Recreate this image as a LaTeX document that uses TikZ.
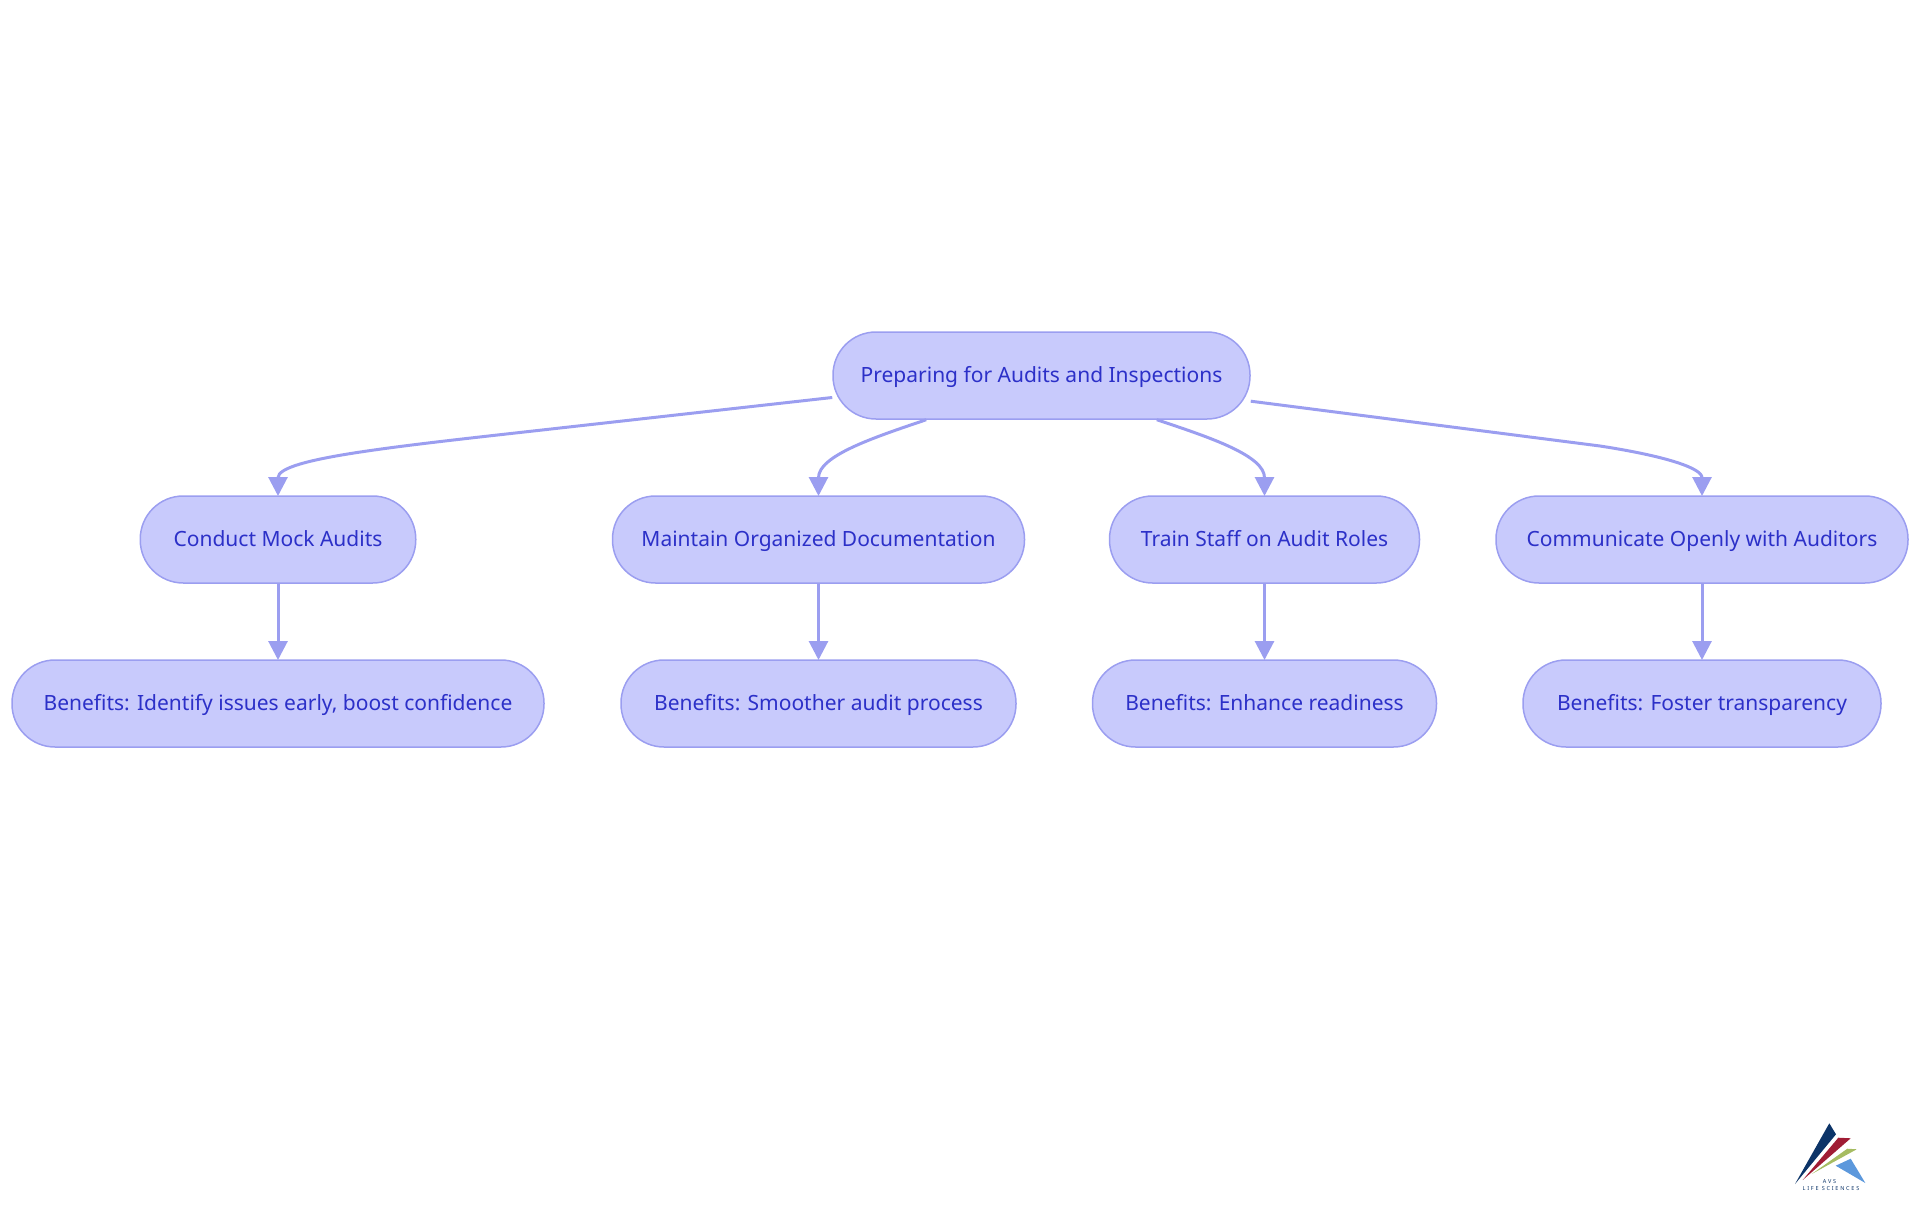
\documentclass[tikz,border=0pt]{standalone}
\usepackage{fontspec}
\setmainfont{Noto Sans}
\usetikzlibrary{arrows.meta}
\definecolor{ff}{RGB}{200, 202, 252}
\definecolor{bb}{RGB}{155, 158, 240}
\definecolor{tt}{RGB}{44, 48, 200}
\definecolor{navy}{RGB}{12, 52, 104}
\definecolor{wine}{RGB}{160, 28, 52}
\definecolor{olive}{RGB}{166, 188, 98}
\definecolor{sky}{RGB}{92, 152, 220}
\tikzset{
box/.style={rectangle, rounded corners=43pt, minimum height=87pt, fill=ff, line width=1.5pt, draw=bb, text=tt, inner sep=0pt, text height=19pt, text depth=5pt, font=\fontsize{21pt}{26pt}\selectfont},
link/.style={line width=3pt, color=bb, -{Triangle[length=19pt, width=19pt]}, shorten >=-0.75pt},
tiny/.style={text=navy, inner sep=0pt, font=\fontsize{5.5pt}{6pt}\bfseries\addfontfeature{LetterSpace=32}}
}
\begin{document}
\begin{tikzpicture}
\useasboundingbox (0pt, 0pt) rectangle (1920pt, -1215pt);
\node (root) [box, minimum width=417pt] at (1041.5pt, -375.5pt)  {Preparing for Audits and Inspections};
\node (mock) [box, minimum width=275.5pt] at (278pt, -539.5pt)  {Conduct Mock Audits};
\node (docs) [box, minimum width=412pt] at (818.5pt, -539.5pt)  {Maintain Organized Documentation};
\node (train) [box, minimum width=310pt] at (1264.5pt, -539.5pt)  {Train Staff on Audit Roles};
\node (talk) [box, minimum width=412pt] at (1702pt, -539.5pt)  {Communicate Openly with Auditors};
\node (mockb) [box, minimum width=532pt] at (278pt, -703.5pt)  {Benefits: Identify issues early, boost confidence};
\node (docsb) [box, minimum width=395pt] at (818.5pt, -703.5pt)  {Benefits: Smoother audit process};
\node (trainb) [box, minimum width=344pt] at (1264.5pt, -703.5pt)  {Benefits: Enhance readiness};
\node (talkb) [box, minimum width=358pt] at (1702pt, -703.5pt)  {Benefits: Foster transparency};
\draw [link] (root.186.2) -- (560pt, -428pt) .. controls (400pt, -446pt) and (278pt, -458pt) .. (mock.north);
\draw [link] (root.201) .. controls (872pt, -438pt) and (818.5pt, -456pt) .. (docs.north);
\draw [link] (root.-21.1) .. controls (1212pt, -438pt) and (1264.5pt, -456pt) .. (train.north);
\draw [link] (root.-7.1) -- (1600pt, -446pt) .. controls (1665pt, -456pt) and (1702pt, -468pt) .. (talk.north);
\draw [link] (mock) to  (mockb);
\draw [link] (docs) to  (docsb);
\draw [link] (train) to  (trainb);
\draw [link] (talk) to  (talkb);
% logo
\fill [navy] (1795pt, -1184pt) -- (1829.3pt, -1123.3pt) -- (1836pt, -1134.3pt) -- cycle;
\fill [wine] (1802.7pt, -1180pt) -- (1838.3pt, -1137.7pt) -- (1850.7pt, -1138.3pt) -- cycle;
\fill [olive] (1811.7pt, -1174pt) -- (1847.3pt, -1148.7pt) -- (1856.7pt, -1149.3pt) -- cycle;
\fill [sky] (1835.7pt, -1165.7pt) -- (1850.7pt, -1158.7pt) -- (1865.3pt, -1183pt) -- cycle;
\node (avs) [tiny] at (1829.5pt, -1182pt) {AVS};
\node (life) [tiny] at (1831pt, -1189pt) {LIFE SCIENCES};
\end{tikzpicture}
\end{document}
